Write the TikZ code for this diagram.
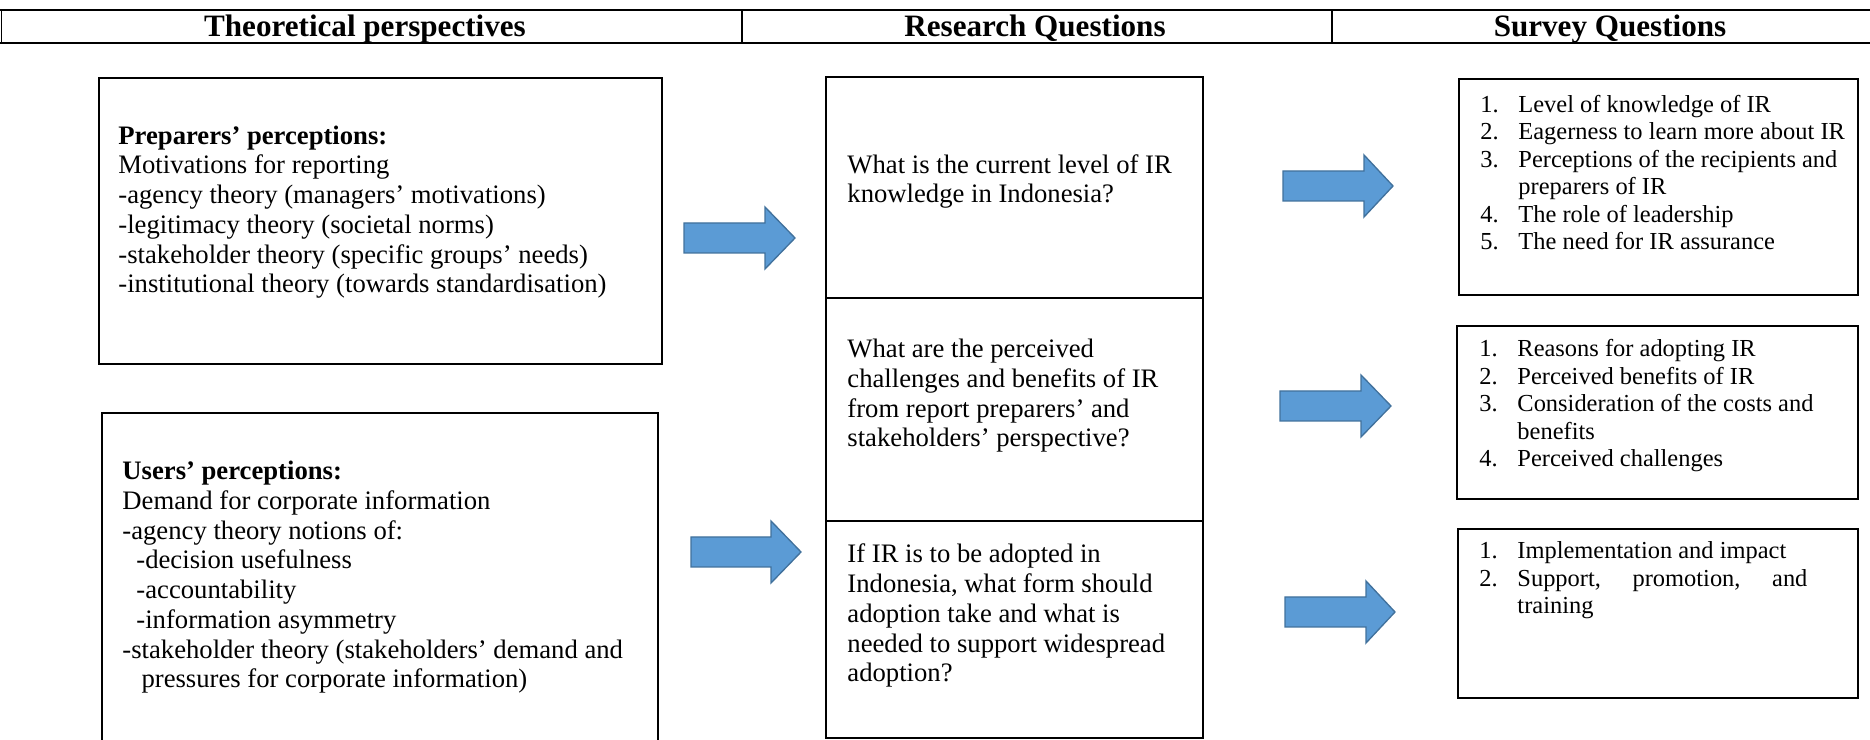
\documentclass[tikz,border=0pt]{standalone}
\usepackage{fontspec}
\setmainfont{Liberation Serif}
\usetikzlibrary{fit}
\definecolor{arrowblue}{HTML}{5B9BD5}
\definecolor{arrowedge}{HTML}{41719C}
\newcommand{\barrow}[4]{%
  \filldraw[blk] (#1,#4-15) -- (#2,#4-15) -- (#2,#4-31) -- (#3,#4) -- (#2,#4+31) -- (#2,#4+15) -- (#1,#4+15) -- cycle;}
\newcommand{\num}[1]{\makebox[17.1pt][l]{#1}}
\newcommand{\cont}{\hspace*{17.1pt}}
\begin{document}
\begin{tikzpicture}[x=0.45pt,y=-0.45pt,
  box/.style={draw=black, line width=0.9pt, inner sep=0pt},
  cell/.style={inner sep=0pt, anchor=base west, align=left, font=\fontsize{12}{13.4}\selectfont},
  lst/.style={inner sep=0pt, anchor=base west, align=left, font=\fontsize{11}{12.4}\selectfont},
  hdr/.style={inner sep=0pt, anchor=base, font=\fontsize{14}{16}\selectfont\bfseries},
  blk/.style={fill=arrowblue, draw=arrowedge, line width=0.6pt},
  rule/.style={line width=1.1pt},
  thin/.style={line width=0.6pt}]
\useasboundingbox (0,0) rectangle (1870,740);

% header table
\draw[rule] (0,10) -- (1870,10);
\draw[rule] (0,43) -- (1870,43);
\draw[thin] (1.5,10) -- (1.5,43);
\draw[thin] (742,10) -- (742,43);
\draw[thin] (1332,10) -- (1332,43);
\node[hdr] (h1) at (365,37) {Theoretical perspectives};
\node[hdr] (h2) at (1035,37) {Research Questions};
\node[hdr] (h3) at (1610,37) {Survey Questions};

% left boxes (text nodes placed by the baseline of their last line)
\node[box, fit={(99,78) (662,364)}] (A) {};
\node[cell] (Atext) at (118,293) {\textbf{Preparers’ perceptions:}\\
Motivations for reporting\\
-agency theory (managers’ motivations)\\
-legitimacy theory (societal norms)\\
-stakeholder theory (specific groups’ needs)\\
-institutional theory (towards standardisation)};

\node[box, fit={(102,413) (658,752)}] (B) {};
\node[cell] (Btext) at (122,688) {\textbf{Users’ perceptions:}\\
Demand for corporate information\\
-agency theory notions of:\\
\hspace*{6.3pt}-decision usefulness\\
\hspace*{6.3pt}-accountability\\
\hspace*{6.3pt}-information asymmetry\\
-stakeholder theory (stakeholders’ demand and\\
\hspace*{8.6pt}pressures for corporate information)};

% middle box
\node[box, fit={(826,77) (1203,738)}] (M) {};
\draw[thin] (M.west |- 0,298) -- (M.east |- 0,298);
\draw[thin] (M.west |- 0,521) -- (M.east |- 0,521);
\node[cell] (M1) at (847,203) {What is the current level of IR\\knowledge in Indonesia?};
\node[cell] (M2) at (847,447) {What are the perceived\\challenges and benefits of IR\\from report preparers’ and\\stakeholders’ perspective?};
\node[cell] (M3) at (847,682) {If IR is to be adopted in\\Indonesia, what form should\\adoption take and what is\\needed to support widespread\\adoption?};

% right boxes
\node[box, fit={(1459,79) (1858,295)}] (R1) {};
\node[lst] (R1text) at (1480,250) {\num{1.}Level of knowledge of IR\\
\num{2.}Eagerness to learn more about IR\\
\num{3.}\makebox[143.5pt][s]{Perceptions of the recipients and}\\
\cont preparers of IR\\
\num{4.}The role of leadership\\
\num{5.}The need for IR assurance};

\node[box, fit={(1457,326) (1858,499)}] (R2) {};
\node[lst] (R2text) at (1479,467) {\num{1.}Reasons for adopting IR\\
\num{2.}Perceived benefits of IR\\
\num{3.}Consideration of the costs and\\
\cont benefits\\
\num{4.}Perceived challenges};

\node[box, fit={(1458,529) (1858,698)}] (R3) {};
\node[lst] (R3text) at (1479,614) {\num{1.}Implementation and impact\\
\num{2.}\makebox[130.5pt][s]{Support, promotion, and}\\
\cont training};

% block arrows
\barrow{684}{765}{795}{238}
\barrow{691}{771}{801}{552}
\barrow{1283}{1364}{1393}{186}
\barrow{1280}{1361}{1391}{406}
\barrow{1285}{1366}{1395}{612}
\end{tikzpicture}
\end{document}
